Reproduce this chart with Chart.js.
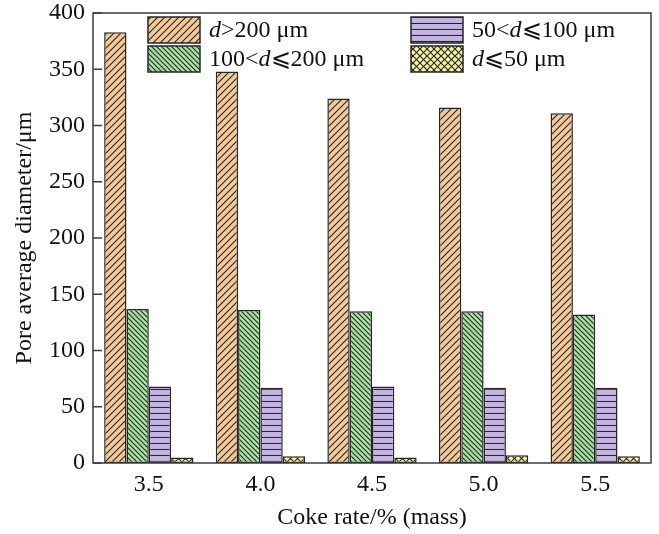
<!DOCTYPE html>
<html>
<head>
<meta charset="utf-8">
<script src="https://cdn.jsdelivr.net/npm/chart.js@4.4.1/dist/chart.umd.min.js"></script>
<style>
  html, body { margin: 0; padding: 0; background: #fff; }
  #wrap { width: 659px; height: 534px; }
</style>
</head>
<body>
<div id="wrap"><canvas id="poreChart" width="659" height="534"></canvas></div>
<script>
// coke rate categories
const cokeRates = ['3.5', '4.0', '4.5', '5.0', '5.5'];

// pore average diameter by size class (um)
const over200 = [383, 348, 324, 316, 311];
const from100to200 = [137, 136, 135, 135, 132];
const from50to100 = [68, 67, 68, 67, 67];
const upTo50 = [5, 6, 5, 7, 6];

const seriesLabels = ['d>200 μm', '100<d⩽200 μm', '50<d⩽100 μm', 'd⩽50 μm'];
const yTicks = [0, 50, 100, 150, 200, 250, 300, 350, 400];

const FONT = "'Liberation Serif', 'Times New Roman', 'DejaVu Serif', serif";
const INK = '#262626';

const makePattern = (bg, kind, size) => {
  const c = document.createElement('canvas');
  c.width = size;
  c.height = size;
  const g = c.getContext('2d');
  g.fillStyle = bg;
  g.fillRect(0, 0, size, size);
  g.strokeStyle = INK;
  g.lineWidth = 1.1;
  const fwd = () => {
    g.beginPath();
    g.moveTo(-1, size + 1); g.lineTo(size + 1, -1);
    g.moveTo(-1, 1); g.lineTo(1, -1);
    g.moveTo(size - 1, size + 1); g.lineTo(size + 1, size - 1);
    g.stroke();
  };
  const back = () => {
    g.beginPath();
    g.moveTo(-1, -1); g.lineTo(size + 1, size + 1);
    g.moveTo(size - 1, -1); g.lineTo(size + 1, 1);
    g.moveTo(-1, size - 1); g.lineTo(1, size + 1);
    g.stroke();
  };
  if (kind === 'fwd') fwd();
  if (kind === 'back') back();
  if (kind === 'cross') { fwd(); back(); }
  if (kind === 'horiz') {
    g.beginPath();
    g.moveTo(0, size - 0.5); g.lineTo(size, size - 0.5);
    g.stroke();
  }
  return g.createPattern(c, 'repeat');
};

const fills = [
  makePattern('#F3C999', 'fwd', 7),
  makePattern('#A8E4A2', 'back', 5),
  makePattern('#C4B5E0', 'horiz', 6),
  makePattern('#F4F4A2', 'cross', 7)
];

// draw text with italic "d"
const drawRich = (ctx, text, x, y) => {
  let cx = x;
  for (const ch of text) {
    ctx.font = (ch === 'd' ? 'italic ' : '') + '24px ' + FONT;
    ctx.fillText(ch, cx, y);
    cx += ctx.measureText(ch).width;
  }
};

const framePlugin = {
  id: 'frame',
  afterDatasetsDraw(chart) {
    const { ctx, chartArea } = chart;
    const yScale = chart.scales.y;
    ctx.save();
    ctx.strokeStyle = '#3c3c3c';
    ctx.lineWidth = 1.5;
    ctx.strokeRect(chartArea.left, chartArea.top, chartArea.right - chartArea.left, chartArea.bottom - chartArea.top);
    // inward y ticks
    ctx.beginPath();
    yTicks.forEach((v) => {
      const py = yScale.getPixelForValue(v);
      ctx.moveTo(chartArea.left, py);
      ctx.lineTo(chartArea.left + 9, py);
    });
    ctx.stroke();

    // legend, two columns
    const boxes = [
      { x: 148, y: 17 }, { x: 148, y: 46 },
      { x: 411, y: 17 }, { x: 411, y: 46 }
    ];
    ctx.textBaseline = 'middle';
    chart.data.datasets.forEach((ds, i) => {
      const b = boxes[i];
      ctx.fillStyle = ds.backgroundColor;
      ctx.fillRect(b.x, b.y, 52, 26);
      ctx.strokeStyle = INK;
      ctx.lineWidth = 1.5;
      ctx.strokeRect(b.x, b.y, 52, 26);
      ctx.fillStyle = '#111';
      drawRich(ctx, ds.label, b.x + 61, b.y + 14);
    });
    ctx.restore();
  }
};

const ctx = document.getElementById('poreChart').getContext('2d');
new Chart(ctx, {
  type: 'bar',
  data: {
    labels: cokeRates,
    datasets: [over200, from100to200, from50to100, upTo50].map((d, i) => ({
      label: seriesLabels[i],
      data: d,
      backgroundColor: fills[i],
      borderColor: INK,
      borderWidth: 1.5,
      borderSkipped: false,
      categoryPercentage: 0.8,
      barPercentage: 1.0
    }))
  },
  options: {
    responsive: false,
    animation: false,
    layout: { padding: { top: 13, right: 8, left: 0, bottom: 0 } },
    plugins: {
      legend: { display: false },
      tooltip: { enabled: false }
    },
    scales: {
      x: {
        grid: { display: false, drawTicks: false },
        border: { display: false },
        ticks: { color: '#111', padding: 7, font: { family: FONT, size: 24 } },
        title: {
          display: true,
          text: 'Coke rate/% (mass)',
          color: '#111',
          padding: { top: 0, bottom: 2 },
          font: { family: FONT, size: 24 }
        },
        afterFit: (scale) => {
          scale.height = 71;
          scale.paddingLeft = 0;
          scale.paddingRight = 0;
        }
      },
      y: {
        min: 0,
        max: 400,
        grid: { display: false, drawTicks: false },
        border: { display: false },
        ticks: { stepSize: 50, color: '#111', padding: 8, font: { family: FONT, size: 24 } },
        title: {
          display: true,
          text: 'Pore average diameter/μm',
          color: '#111',
          padding: { top: 10, bottom: 0 },
          font: { family: FONT, size: 24 }
        },
        afterFit: (scale) => {
          scale.width = 93;
          scale.paddingTop = 0;
          scale.paddingBottom = 0;
        }
      }
    }
  },
  plugins: [framePlugin]
});
</script>
</body>
</html>
